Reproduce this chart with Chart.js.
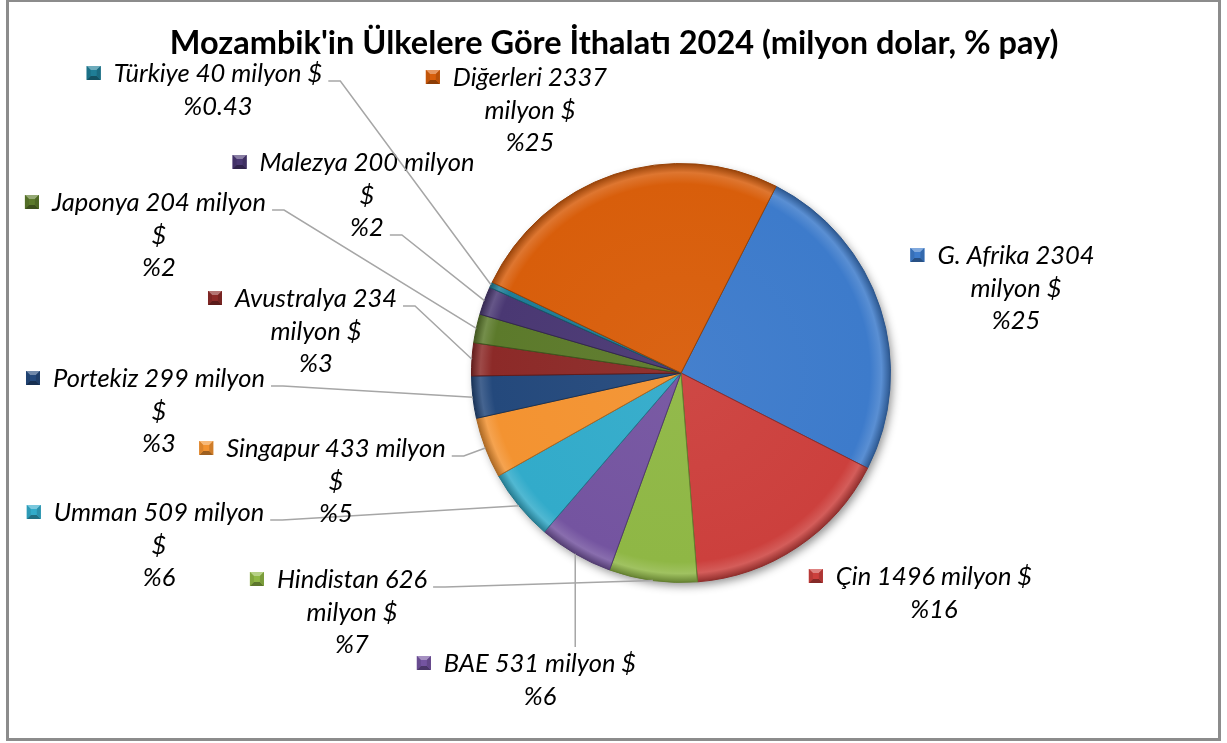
<!DOCTYPE html>
<html>
<head>
<meta charset="utf-8">
<script src="https://cdn.jsdelivr.net/npm/chart.js@4.4.1/dist/chart.umd.min.js"></script>
<style>
  html, body { margin: 0; padding: 0; background: #fff; }
  #frame { position: absolute; left: 6px; top: -1px; width: 1209px; height: 736px; border: 3px solid #8c8c8c; }
  #wrap { position: absolute; left: 0; top: 0; width: 1227px; height: 743px; }
</style>
</head>
<body>
<div id="frame"></div>
<div id="wrap"><canvas id="importChart"></canvas></div>
<script>
// Data
const categories = ['G. Afrika', 'Çin', 'Hindistan', 'BAE', 'Umman', 'Singapur', 'Portekiz', 'Avustralya', 'Japonya', 'Malezya', 'Türkiye', 'Diğerleri'];
const values = [2304, 1496, 626, 531, 509, 433, 299, 234, 204, 200, 40, 2337];
const pctLabels = ['%25', '%16', '%7', '%6', '%6', '%5', '%3', '%3', '%2', '%2', '%0.43', '%25'];
const titleText = "Mozambik'in Ülkelere Göre İthalatı 2024 (milyon dolar, % pay)";

// Styling / layout
const colors = ['#3d7bcb', '#cc403d', '#8fb745', '#7454a0', '#32abca', '#f39331', '#24497c', '#8c2a28', '#5c7a2b', '#4a3873', '#1f7d96', '#d85e0b'];
// words per line for each label (how Excel wrapped the name + value text)
const wrapWords = [[3, 2], [4], [2, 2], [4], [3, 1], [3, 1], [3, 1], [2, 2], [3, 1], [3, 1], [4], [2, 2]];
// text centre x, centre y of first line
const labelPos = [[1016, 256], [934, 577], [352, 580], [540, 664], [159, 513], [336, 449], [159, 379], [316, 299], [159, 203], [367, 163], [218, 74], [530, 78]];
// leader: null = none, {line:n} = from end of line n, 'v' = vertical to label top
const leaders = [null, null, {line: 0}, 'v', {line: 0}, {line: 0}, {line: 0}, {line: 0}, {line: 0}, {line: 2}, {line: 0}, null];
const LINE_H = 32.5;
const LABEL_FONT = 'italic 25.5px Lato';
const TITLE_FONT = 'bold 32.5px Lato';

function shade(hex, amt) {
    const n = parseInt(hex.slice(1), 16);
    let r = n >> 16, g = (n >> 8) & 255, b = n & 255;
    const t = amt < 0 ? 0 : 255, p = Math.abs(amt);
    r = Math.round(r + (t - r) * p); g = Math.round(g + (t - g) * p); b = Math.round(b + (t - b) * p);
    return `rgb(${r},${g},${b})`;
}

function labelLines(i) {
    const words = `${categories[i]} ${values[i]} milyon $`.split(' ');
    const lines = [];
    let k = 0;
    wrapWords[i].forEach(n => { lines.push(words.slice(k, k + n).join(' ')); k += n; });
    lines.push(pctLabels[i]);
    return lines;
}

function drawKey(ctx, x, y, s, color) {
    const b = 4;
    ctx.fillStyle = color;
    ctx.fillRect(x, y, s, s);
    const poly = (pts, fill) => {
        ctx.beginPath();
        ctx.moveTo(pts[0][0], pts[0][1]);
        pts.slice(1).forEach(p => ctx.lineTo(p[0], p[1]));
        ctx.closePath();
        ctx.fillStyle = fill;
        ctx.fill();
    };
    poly([[x, y], [x + s, y], [x + s / 2, y + s / 2]], shade(color, 0.35));
    poly([[x, y + s], [x + s, y + s], [x + s / 2, y + s / 2]], shade(color, -0.35));
    poly([[x, y], [x, y + s], [x + s / 2, y + s / 2]], shade(color, -0.1));
    poly([[x + s, y], [x + s, y + s], [x + s / 2, y + s / 2]], shade(color, -0.15));
    ctx.fillStyle = color;
    ctx.fillRect(x + b, y + b, s - 2 * b, s - 2 * b);
}

const pieShadow = {
    id: 'pieShadow',
    beforeDatasetsDraw(chart) {
        const arc = chart.getDatasetMeta(0).data[0];
        if (!arc) return;
        const {x, y, outerRadius} = arc.getProps(['x', 'y', 'outerRadius'], true);
        const ctx = chart.ctx;
        ctx.save();
        ctx.shadowColor = 'rgba(0,0,0,0.45)';
        ctx.shadowBlur = 10;
        ctx.shadowOffsetX = 3;
        ctx.shadowOffsetY = 4;
        ctx.beginPath();
        ctx.arc(x, y, outerRadius - 1, 0, Math.PI * 2);
        ctx.fillStyle = '#666';
        ctx.fill();
        ctx.restore();
    }
};

const pieLabels = {
    id: 'pieLabels',
    afterDraw(chart) {
        const ctx = chart.ctx;
        const meta = chart.getDatasetMeta(0);
        ctx.save();
        // title
        ctx.font = TITLE_FONT;
        ctx.fillStyle = '#000';
        ctx.textAlign = 'center';
        ctx.textBaseline = 'middle';
        ctx.fillText(titleText, 614, 44);

        ctx.font = LABEL_FONT;
        meta.data.forEach((arc, i) => {
            const lines = labelLines(i);
            const [cx, cy] = labelPos[i];
            const {x, y, startAngle, endAngle, outerRadius} = arc.getProps(['x', 'y', 'startAngle', 'endAngle', 'outerRadius'], true);
            const mid = (startAngle + endAngle) / 2;
            const px = x + Math.cos(mid) * outerRadius;
            const py = y + Math.sin(mid) * outerRadius;

            // leader line
            const ld = leaders[i];
            if (ld) {
                ctx.strokeStyle = '#a6a6a6';
                ctx.lineWidth = 1.5;
                ctx.beginPath();
                if (ld === 'v') {
                    ctx.moveTo(px, py);
                    ctx.lineTo(px, cy - 17);
                } else {
                    const w = ctx.measureText(lines[ld.line]).width;
                    const sx = cx + w / 2 + 6;
                    const sy = cy + ld.line * LINE_H + 7;
                    ctx.moveTo(sx, sy);
                    ctx.lineTo(sx + 12, sy);
                    ctx.lineTo(px, py);
                }
                ctx.stroke();
            }

            ctx.fillStyle = '#000';
            lines.forEach((t, k) => ctx.fillText(t, cx, cy + k * LINE_H));
            const w0 = ctx.measureText(lines[0]).width;
            drawKey(ctx, cx - w0 / 2 - 27, cy - 8, 14, colors[i]);
        });
        ctx.restore();
    }
};

const ctxChart = document.getElementById('importChart').getContext('2d');
const importChart = new Chart(ctxChart, {
    type: 'pie',
    data: {
        labels: categories,
        datasets: [{
            data: values,
            backgroundColor: (c) => {
                const a = c.chart.chartArea;
                const base = colors[c.dataIndex];
                if (!a) return base;
                const cx = (a.left + a.right) / 2, cy = (a.top + a.bottom) / 2;
                const r = Math.min(a.width, a.height) / 2;
                const g = c.chart.ctx.createRadialGradient(cx, cy, 0, cx, cy, r);
                g.addColorStop(0, shade(base, 0.04));
                g.addColorStop(0.9, base);
                g.addColorStop(0.955, shade(base, 0.15));
                g.addColorStop(1, shade(base, -0.3));
                return g;
            },
            borderColor: colors.map(c => shade(c, -0.3)),
            borderWidth: 1
        }]
    },
    options: {
        responsive: true,
        maintainAspectRatio: false,
        animation: false,
        rotation: 27,
        layout: { padding: { left: 471, right: 336, top: 163, bottom: 160 } },
        plugins: {
            legend: { display: false },
            tooltip: { enabled: false }
        }
    },
    plugins: [pieShadow, pieLabels]
});
</script>
</body>
</html>
